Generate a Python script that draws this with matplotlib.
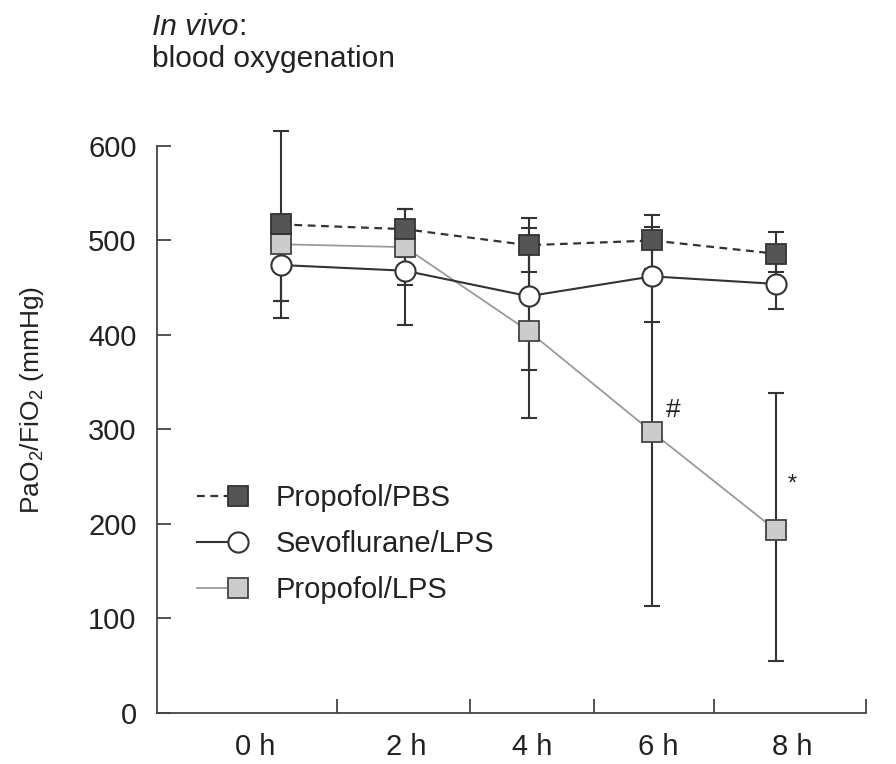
import numpy as np
import matplotlib
matplotlib.use("Agg")
import matplotlib.pyplot as plt
from matplotlib.legend_handler import HandlerLine2D
from matplotlib.lines import Line2D

plt.rcParams['font.family'] = ['Liberation Sans', 'DejaVu Sans']
plt.rcParams['mathtext.fontset'] = 'custom'
plt.rcParams['mathtext.rm'] = 'Liberation Sans'
plt.rcParams['mathtext.default'] = 'regular'

# data
hours = [0, 2, 4, 6, 8]
hour_labels = ['0 h', '2 h', '4 h', '6 h', '8 h']

pbs_mean = [517, 512, 495, 500, 486]
pbs_err_lo = [99, 21, 28, 30, 19]
pbs_err_hi = [99, 21, 29, 27, 23]

sevo_mean = [474, 468, 441, 462, 454]
sevo_err_lo = [38, 57, 78, 48, 27]
sevo_err_hi = [38, 15, 72, 52, 27]

lps_mean = [496, 493, 404, 297, 193]
lps_err_lo = [60, 40, 92, 184, 138]
lps_err_hi = [25, 40, 92, 170, 145]

# layout of the time axis: tick marks sit between the labels
bounds = [-2.0, 0.9, 3.05, 5.05, 7.0, 9.45]
label_pos = [-0.42, 2.03, 4.06, 6.09, 8.26]

dark = '#333333'
txt = '#222222'


class EndMarkerHandler(HandlerLine2D):
    # marker at the right end of the legend line
    def create_artists(self, *args, **kwargs):
        arts = super().create_artists(*args, **kwargs)
        for a in arts:
            n = len(a.get_xdata())
            a.set_markevery([n - 1])
        return arts


fig = plt.figure(figsize=(8.96, 7.64), dpi=100)
ax = fig.add_axes([0.1756, 0.0674, 0.7906, 0.7908])

series = [
    (lps_mean, lps_err_lo, lps_err_hi, dict(color='#9a9a9a', lw=1.3, ls='-',
     marker='s', ms=14, mfc='#cccccc', mec='#444444', mew=1.3), 'Propofol/LPS'),
    (sevo_mean, sevo_err_lo, sevo_err_hi, dict(color=dark, lw=1.5, ls='-',
     marker='o', ms=14.5, mfc='white', mec=dark, mew=1.5), 'Sevoflurane/LPS'),
    (pbs_mean, pbs_err_lo, pbs_err_hi, dict(color=dark, lw=1.6, ls=(0, (3.5, 2.5)),
     marker='s', ms=14, mfc='#555555', mec=dark, mew=1.3), 'Propofol/PBS'),
]

handles = {}
for mean, lo, hi, style, name in series:
    ax.errorbar(hours, mean, yerr=[lo, hi], fmt='none', ecolor=dark,
                elinewidth=1.5, capsize=6, capthick=1.5, zorder=2, clip_on=False)
    ax.plot(hours, mean, ls=style['ls'], color=style['color'], lw=style['lw'], zorder=3)
    ax.plot(hours, mean, ls='none', marker=style['marker'], ms=style['ms'],
            mfc=style['mfc'], mec=style['mec'], mew=style['mew'], zorder=4, clip_on=False)
    handles[name] = Line2D([], [], **style)

# significance marks
ax.annotate('#', (hours[3], lps_mean[3]), xytext=(15, 16), textcoords='offset points',
            ha='center', va='center', fontsize=19, color=txt)
ax.annotate('*', (hours[4], lps_mean[4]), xytext=(12, 33), textcoords='offset points',
            ha='center', va='center', fontsize=17, color=txt)

# axes styling
ax.set_xlim(bounds[0], bounds[-1])
ax.set_ylim(0, 640)
ax.spines['top'].set_visible(False)
ax.spines['right'].set_visible(False)
ax.spines['left'].set_bounds(0, 600)
for s in ['left', 'bottom']:
    ax.spines[s].set_color('#444444')
    ax.spines[s].set_linewidth(1.3)

ax.set_yticks([0, 100, 200, 300, 400, 500, 600])
ax.tick_params(axis='y', direction='in', length=10, width=1.3, color='#444444',
               labelsize=21, labelcolor=txt, pad=15)

ax.set_xticks(label_pos)
ax.set_xticklabels(hour_labels)
ax.set_xticks(bounds[1:], minor=True)
ax.tick_params(axis='x', which='major', length=0, labelsize=21,
               labelcolor=txt, pad=15)
ax.tick_params(axis='x', which='minor', direction='in', length=10, width=1.3,
               color='#444444')

ax.set_ylabel(r'PaO$_2$/FiO$_2$ (mmHg)', fontsize=19, color=txt)
ax.yaxis.set_label_coords(-0.157, 0.517)

order = ['Propofol/PBS', 'Sevoflurane/LPS', 'Propofol/LPS']
ax.legend([handles[k] for k in order], order, loc='upper left',
          bbox_to_anchor=(0.056, 0.378), frameon=False, fontsize=21,
          handlelength=1.4, handletextpad=1.3, labelspacing=0.62,
          borderpad=0, borderaxespad=0,
          handler_map={Line2D: EndMarkerHandler()}, labelcolor=txt)

# title lines
t1 = fig.text(0.1693, 0.9542, 'In vivo', style='italic', fontsize=21.5,
              color=txt, va='baseline', ha='left')
fig.canvas.draw()
bb = t1.get_window_extent()
fig.text(bb.x1 / fig.bbox.width, 0.9542, ':', fontsize=21.5, color=txt,
         va='baseline', ha='left')
fig.text(0.1693, 0.9127, 'blood oxygenation', fontsize=21.5, color=txt,
         va='baseline', ha='left')

fig.savefig('out.png', dpi=100)
